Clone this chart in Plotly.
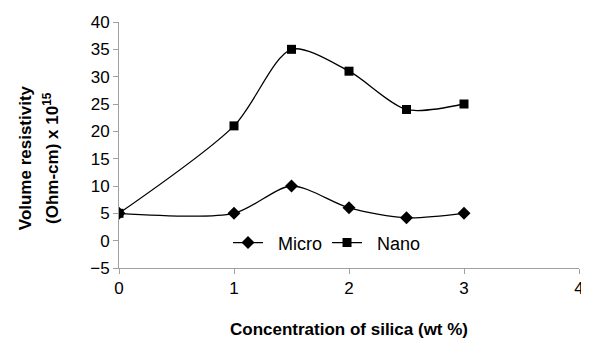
import plotly.graph_objects as go

x_vals = [0, 1, 1.5, 2, 2.5, 3]
micro = [5, 5, 10, 6, 4.2, 5]
nano = [5, 21, 35, 31, 24, 25]
x_ticks = [0, 1, 2, 3, 4]
y_ticks = [-5, 0, 5, 10, 15, 20, 25, 30, 35, 40]
series_names = ["Micro", "Nano"]

FONT = "Liberation Sans, Arial, sans-serif"
PAD = "\u00a0\u00a0"

fig = go.Figure()
fig.add_trace(go.Scatter(x=x_vals, y=micro, name=PAD + series_names[0], mode="lines+markers",
                         line=dict(color="black", width=1.3, shape="spline", smoothing=0.8),
                         marker=dict(symbol="diamond", size=10, color="black")))
fig.add_trace(go.Scatter(x=x_vals, y=nano, name=PAD + series_names[1], mode="lines+markers",
                         line=dict(color="black", width=1.3, shape="spline", smoothing=0.8),
                         marker=dict(symbol="square", size=9, color="black")))

axis_common = dict(showgrid=False, zeroline=False, showline=True, linecolor="#a0a0a0",
                   linewidth=1, ticks="outside", tickcolor="#a0a0a0", ticklen=5,
                   automargin=False,
                   tickfont=dict(family=FONT, size=17, color="black"))

# page body has an 8px default margin; the figure is sized to fill the 589x340 window
fig.update_layout(
    template="none",
    width=581, height=332,
    margin=dict(l=111, r=10, t=14, b=72, autoexpand=False),
    paper_bgcolor="white", plot_bgcolor="white",
    showlegend=True,
    legend=dict(orientation="h", x=0.237, y=0.102, xanchor="left", yanchor="middle",
                font=dict(family=FONT, size=18, color="black"),
                bgcolor="rgba(0,0,0,0)", tracegroupgap=0),
    xaxis=dict(range=[0, 4], tickvals=x_ticks, **axis_common),
    yaxis=dict(range=[-5, 40], tickvals=y_ticks, **axis_common),
    annotations=[
        dict(text="<b>Volume resistivity</b>", xref="paper", yref="paper",
             x=-0.204, y=0.447, xanchor="center", yanchor="middle", textangle=-90, showarrow=False,
             font=dict(family=FONT, size=17, color="black")),
        dict(text="<b>(Ohm-cm) x 10<sup>15</sup></b>", xref="paper", yref="paper",
             x=-0.148, y=0.447, xanchor="center", yanchor="middle", textangle=-90, showarrow=False,
             font=dict(family=FONT, size=17, color="black")),
        dict(text="<b>Concentration of silica (wt %)</b>", xref="paper", yref="paper",
             x=0.5, y=-0.252, xanchor="center", yanchor="middle", showarrow=False,
             font=dict(family=FONT, size=17, color="black")),
    ],
)

fig.write_html("out.html")
